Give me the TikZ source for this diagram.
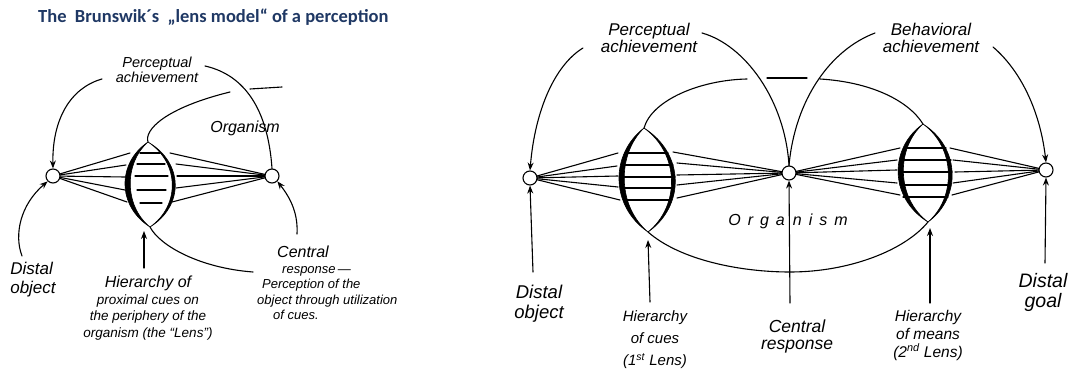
\documentclass[tikz,border=0pt]{standalone}
\usepackage{fontspec}
\newfontfamily\titlefont{Carlito}
\newfontfamily\handfont[Ligatures=TeX]{Liberation Sans}
\usetikzlibrary{arrows.meta}
\definecolor{titleblue}{RGB}{31,56,100}
\tikzset{
  ln/.style={line width=1.1pt, line cap=round},
  arr/.style={ln, -{Stealth[length=8pt,width=6pt]}},
  circ/.style={circle, draw, line width=1.1pt, minimum size=14pt, inner sep=0pt, fill=white},
  hand/.style={align=center, inner sep=0pt},
  edge/.style={fill=black, draw=black, line width=0.6pt, line join=round},
}
\newcommand{\hf}[2]{\handfont\itshape\fontsize{#1}{#2}\selectfont}
\begin{document}
\begin{tikzpicture}[x=1pt,y=-1pt]
\useasboundingbox (0,0) rectangle (1076,374);

% ---------------- title ----------------
\node[anchor=west, inner sep=0pt, text=titleblue, font=\titlefont\bfseries\fontsize{18.5}{20}\selectfont] (title) at (38,17) {The\ \ Brunswik´s\ \ „lens model“ of a perception};

% ================= LEFT DIAGRAM =================
\coordinate (Lt) at (148,142);
\coordinate (Lb) at (150,227);
% rays
\foreach \y/\x in {153/130,165/126,177/125,190/125,202/127} \draw[ln] (53,176) -- (\x,\y);
\foreach \y/\x in {153/170,164/176,176/177,188/176,202/172} \draw[ln] (\x,\y) -- (272,176);
% lens lines
\foreach \y/\a/\b in {153/140/160,164/137/165,176/135/168,190/137/166,203/140/162} \draw[ln] (\a,\y) -- (\b,\y);
% lens edges
\path[edge] (Lt) .. controls (117,163) and (117,206) .. (Lb) .. controls (124,206) and (124,163) .. (Lt) -- cycle;
\path[edge] (Lt) .. controls (184,163) and (184,206) .. (Lb) .. controls (180,206) and (180,163) .. (Lt) -- cycle;
% organism boundary
\draw[ln] (Lt) .. controls (144,130) and (165,108) .. (230,92);
\draw[ln] (250,89) -- (282,87);
\draw[ln] (Lb) .. controls (160,246) and (200,268) .. (253,272);
% circles
\node[circ] (LO) at (53,176) {};
\node[circ] (LR) at (272,176) {};
% labels
\node[hand, font=\hf{14.5}{15}] (lpa) at (157,70) {Perceptual\\achievement};
\node[hand, font=\hf{16}{18}] (lorg) at (245,128) {Organism};
\node[hand, align=left, font=\hf{17}{19}] (ldo) at (33,280) {Distal\\object};
\node[hand, font=\hf{13.5}{16.5}] (lhi) at (148,308) {{\fontsize{16}{18}\selectfont Hierarchy of}\\proximal cues on\\the periphery of the\\organism (the “Lens”)};
\node[hand, align=left, font=\hf{13}{15.5}, anchor=north west] (lcr) at (257,246) {\hspace*{20pt}{\fontsize{16}{17}\selectfont Central}\\\hspace*{25pt}response\,—\\\hspace*{5pt}Perception of the\\object through utilization\\\hspace*{16pt}of cues.};
% arrows and arcs
\draw[arr] (102,79) .. controls (70,88) and (52,120) .. (LO.north);
\draw[ln] (205,66) .. controls (245,75) and (268,110) .. (LR.north);
\draw[arr] (22,256) .. controls (14,235) and (20,205) .. (LO.south west);
\draw[arr] (144,268) -- (144,231);
\draw[arr] (297,234) .. controls (298,215) and (292,200) .. (LR.south east);

% ================= RIGHT DIAGRAM =================
\coordinate (At) at (644,128);
\coordinate (Ab) at (648,232);
\coordinate (Bt) at (923,124);
\coordinate (Bb) at (928,222);
% rays
\foreach \y/\x in {153/618,166/617,176/618,187/618,200/620} \draw[ln] (530,178) -- (\x,\y);
\foreach \y/\x in {152/673,163/677,175/677,185/677,198/677} \draw[ln] (\x,\y) -- (789,173);
\foreach \y/\x in {148/900,160/897,170/897,183/897,195/900} \draw[ln] (789,173) -- (\x,\y);
\foreach \y/\x in {148/950,160/953,172/955,183/953,195/952} \draw[ln] (\x,\y) -- (1046,170);
% lens lines
\foreach \y/\a/\b in {153/627/668,165/623/673,177/621/675,188/622/674,200/625/670} \draw[ln] (\a,\y) -- (\b,\y);
\foreach \y/\a/\b in {148/905/946,160/900/951,172/899/952,185/900/951,197/903/948} \draw[ln] (\a,\y) -- (\b,\y);
% lens edges
\path[edge] (At) .. controls (610,154) and (610,206) .. (Ab) .. controls (617,206) and (617,154) .. (At) -- cycle;
\path[edge] (At) .. controls (685,154) and (685,206) .. (Ab) .. controls (680,206) and (680,154) .. (At) -- cycle;
\path[edge] (Bt) .. controls (889,148) and (889,198) .. (Bb) .. controls (896,198) and (896,148) .. (Bt) -- cycle;
\path[edge] (Bt) .. controls (961,148) and (961,198) .. (Bb) .. controls (956,198) and (956,148) .. (Bt) -- cycle;
% organism boundary
\draw[ln] (At) .. controls (652,100) and (700,80) .. (747,79);
\draw[ln] (767,78) -- (807,78);
\draw[ln] (820,79) .. controls (870,82) and (908,100) .. (Bt);
\draw[ln] (Ab) .. controls (680,260) and (740,272) .. (790,272) .. controls (850,272) and (905,250) .. (Bb);
% circles
\node[circ] (A) at (530,178) {};
\node[circ] (B) at (789,173) {};
\node[circ] (C) at (1046,170) {};
% labels
\node[hand, font=\hf{17}{17}] (rpa) at (649,38) {Perceptual\\achievement};
\node[hand, font=\hf{17}{17}] (rba) at (931,38) {Behavioral\\achievement};
\node[hand, font=\hf{16}{17}] (rorg) at (788,221) {O\hspace{7pt}r\hspace{7pt}g\hspace{7pt}a\hspace{8pt}n\hspace{7pt}i\hspace{7pt}s\hspace{7pt}m};
\node[hand, font=\hf{18.5}{20}] (rdo) at (539,304) {Distal\\object};
\node[hand, font=\hf{15}{22}] (rh1) at (655,340) {Hierarchy\\of cues\\(1\textsuperscript{st} Lens)};
\node[hand, font=\hf{17.5}{17}] (rcr) at (797,336) {Central\\response};
\node[hand, font=\hf{15.5}{18}] (rh2) at (928,335) {Hierarchy\\of means\\(2\textsuperscript{nd} Lens)};
\node[hand, font=\hf{19.5}{20}] (rdg) at (1043,292) {Distal\\goal};
% arrows and arcs
\draw[arr] (583,48) .. controls (555,65) and (535,110) .. (A.north);
\draw[ln] (702,33) .. controls (745,45) and (785,100) .. (B.north);
\draw[ln] (875,33) .. controls (830,50) and (795,100) .. (B.north);
\draw[arr] (993,47) .. controls (1020,70) and (1040,110) .. (C.north);
\draw[arr] (533,272) -- (A.south);
\draw[arr] (650,302) -- (648,240);
\draw[arr] (790,303) -- (B.south);
\draw[arr] (930,303) -- (930,228);
\draw[arr] (1045,263) -- (C.south);
\end{tikzpicture}
\end{document}
